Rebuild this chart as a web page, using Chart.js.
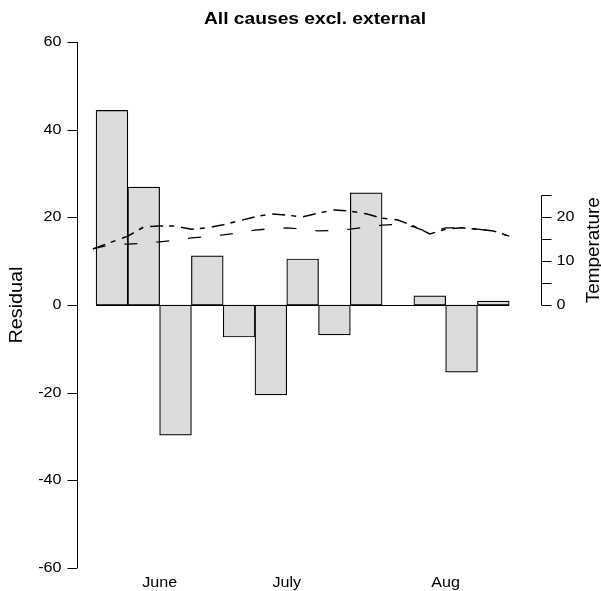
<!DOCTYPE html>
<html>
<head>
<meta charset="utf-8">
<title>All causes excl. external</title>
<script src="https://cdn.jsdelivr.net/npm/chart.js@4.4.1/dist/chart.umd.min.js"></script>
<style>
    html, body { margin: 0; padding: 0; background: #fff; }
    #wrap { width: 601px; height: 591px; }
</style>
</head>
<body>
<div id="wrap"><canvas id="residualChart" width="601" height="591"></canvas></div>
<script>
// Weekly residuals (week 10 has no bar)
const weeks = [1, 2, 3, 4, 5, 6, 7, 8, 9, 10, 11, 12, 13];
const residuals = [44.4, 26.9, -29.7, 11.2, -7.3, -20.5, 10.5, -6.8, 25.6, null, 2.1, -15.3, 0.9];

// Temperature curves, read at half-week steps
const tempX = [0.4, 1.0, 1.5, 2.0, 2.5, 3.0, 3.5, 4.0, 4.5, 5.0, 5.5, 6.0, 6.5, 7.0,
               7.5, 8.0, 8.5, 9.0, 9.5, 10.0, 10.5, 11.0, 11.5, 12.0, 12.5, 13.0, 13.5];
const tempA = [12.8, 14.4, 15.7, 17.8, 18.0, 18.0, 17.3, 17.6, 18.3, 19.2, 20.1, 20.8, 20.5, 20.1,
               21.0, 21.7, 21.4, 20.8, 19.8, 19.4, 18.0, 16.2, 17.3, 17.6, 17.3, 16.9, 15.7];
const tempB = [12.8, 13.8, 13.9, 14.1, 14.4, 14.8, 15.3, 15.6, 16.0, 16.5, 17.1, 17.4, 17.6, 17.3,
               16.9, 17.0, 17.3, 17.8, 18.2, 18.4, 17.8, 16.5, 17.6, 17.6, 17.3, 16.9, 15.7];

// Axis labels
const monthLabels = ['June', 'July', 'Aug'];
const monthPos = [2.5, 6.5, 11.5];
const residualTicks = [-60, -40, -20, 0, 20, 40, 60];
const tempTicks = [0, 5, 10, 15, 20, 25];
const tempTickLabels = [0, 10, 20];

const FONT = '"Liberation Sans", Arial, sans-serif';

function drawText(ctx, s, x, y, font, align, baseline, rot, sx) {
    ctx.save();
    ctx.translate(x, y);
    if (rot) ctx.rotate(rot);
    ctx.scale(sx || 1, 1);
    ctx.font = font;
    ctx.fillStyle = '#000';
    ctx.textAlign = align;
    ctx.textBaseline = baseline;
    ctx.fillText(s, 0, 0);
    ctx.restore();
}

// R-style axes drawn from the chart's own scales
const baseAxes = {
    id: 'baseAxes',
    afterDraw(chart) {
        const ctx = chart.ctx;
        const xs = chart.scales.x;
        const ys = chart.scales.y;
        const px = v => Math.round(v) + 0.5;

        ctx.save();
        ctx.strokeStyle = '#000';
        ctx.lineWidth = 1;

        // zero line along the bars
        ctx.beginPath();
        ctx.moveTo(xs.getPixelForValue(0.5), px(ys.getPixelForValue(0)));
        ctx.lineTo(xs.getPixelForValue(13.5), px(ys.getPixelForValue(0)));
        ctx.stroke();

        // left axis
        const lx = px(chart.chartArea.left);
        ctx.beginPath();
        ctx.moveTo(lx, ys.getPixelForValue(residualTicks[0]));
        ctx.lineTo(lx, ys.getPixelForValue(residualTicks[residualTicks.length - 1]));
        residualTicks.forEach(t => {
            const y = px(ys.getPixelForValue(t));
            ctx.moveTo(lx - 10, y);
            ctx.lineTo(lx, y);
        });
        ctx.stroke();
        residualTicks.forEach(t => {
            drawText(ctx, String(t), lx - 16, ys.getPixelForValue(t), '14px ' + FONT, 'right', 'middle', 0, 1.15);
        });

        // right (temperature) axis
        const rx = px(chart.chartArea.right);
        ctx.beginPath();
        ctx.moveTo(rx, ys.getPixelForValue(tempTicks[0]));
        ctx.lineTo(rx, ys.getPixelForValue(tempTicks[tempTicks.length - 1]));
        tempTicks.forEach(t => {
            const y = px(ys.getPixelForValue(t));
            ctx.moveTo(rx, y);
            ctx.lineTo(rx + 10, y);
        });
        ctx.stroke();
        tempTickLabels.forEach(t => {
            drawText(ctx, String(t), rx + 15, ys.getPixelForValue(t), '14px ' + FONT, 'left', 'middle', 0, 1.15);
        });

        // month labels
        monthLabels.forEach((m, i) => {
            drawText(ctx, m, xs.getPixelForValue(monthPos[i]), 583, '14px ' + FONT, 'center', 'middle', 0, 1.15);
        });

        // titles
        drawText(ctx, 'All causes excl. external', 315, 20, 'bold 16px ' + FONT, 'center', 'middle', 0, 1.2);
        drawText(ctx, 'Residual', 17, ys.getPixelForValue(0), '18px ' + FONT, 'center', 'middle', -Math.PI / 2, 1.1);
        drawText(ctx, 'Temperature', 594, ys.getPixelForValue(12.5), '18px ' + FONT, 'center', 'middle', -Math.PI / 2, 1.05);
        ctx.restore();
    }
};

const ctx = document.getElementById('residualChart').getContext('2d');
new Chart(ctx, {
    type: 'bar',
    data: {
        datasets: [
            {
                type: 'line',
                label: 'Temperature A',
                data: tempX.map((x, i) => ({ x: x, y: tempA[i] })),
                borderColor: '#000',
                borderWidth: 1.5,
                borderDash: [13, 6, 5, 7],
                pointRadius: 0,
                tension: 0,
                fill: false
            },
            {
                type: 'line',
                label: 'Temperature B',
                data: tempX.map((x, i) => ({ x: x, y: tempB[i] })),
                borderColor: '#000',
                borderWidth: 1.3,
                borderDash: [13, 19],
                pointRadius: 0,
                tension: 0,
                fill: false
            },
            {
                label: 'Residual',
                data: weeks.map((w, i) => ({ x: w, y: residuals[i] })),
                backgroundColor: '#dcdcdc',
                borderColor: '#000',
                borderWidth: 1.2,
                borderSkipped: false,
                barPercentage: 1,
                categoryPercentage: 1
            }
        ]
    },
    options: {
        responsive: false,
        animation: false,
        layout: { padding: { left: 77, right: 60, top: 42, bottom: 23 } },
        plugins: { legend: { display: false }, tooltip: { enabled: false }, title: { display: false } },
        scales: {
            x: { type: 'linear', min: -0.1, max: 14.5, offset: false, display: false },
            y: { min: -60, max: 60, display: false }
        }
    },
    plugins: [baseAxes]
});
</script>
</body>
</html>
